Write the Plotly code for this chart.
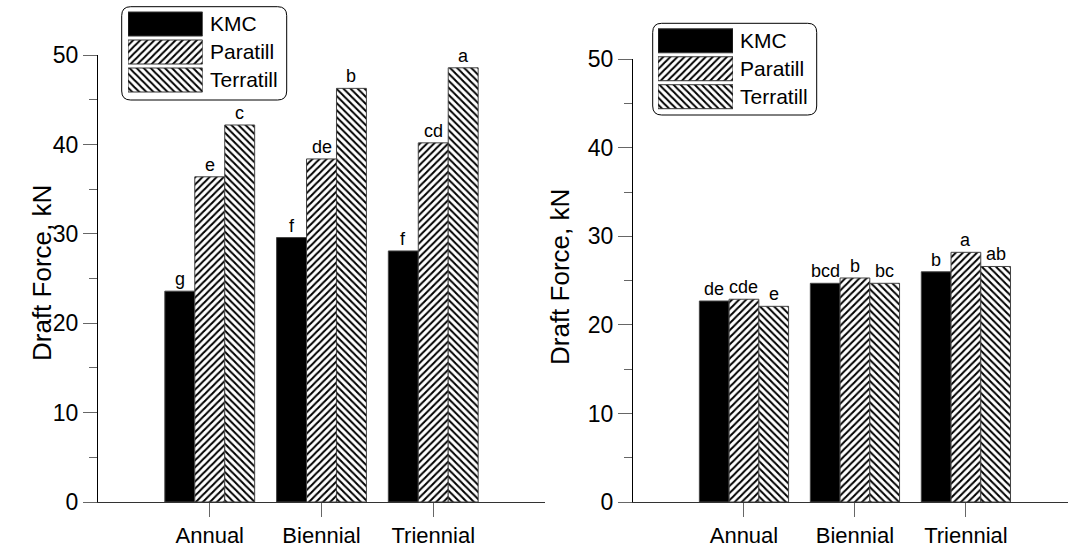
import plotly.graph_objects as go

categories = ["Annual", "Biennial", "Triennial"]
series = ["KMC", "Paratill", "Terratill"]

left_kmc = [23.6, 29.6, 28.1]
left_paratill = [36.4, 38.4, 40.2]
left_terratill = [42.2, 46.3, 48.6]
left_letters_kmc = ["g", "f", "f"]
left_letters_paratill = ["e", "de", "cd"]
left_letters_terratill = ["c", "b", "a"]

right_kmc = [22.7, 24.7, 26.0]
right_paratill = [22.9, 25.3, 28.2]
right_terratill = [22.1, 24.7, 26.6]
right_letters_kmc = ["de", "bcd", "b"]
right_letters_paratill = ["cde", "b", "a"]
right_letters_terratill = ["e", "bc", "ab"]

y_ticks = [0, 10, 20, 30, 40, 50]

FONT = "Liberation Sans, Arial, sans-serif"
W, H = 1068, 552
BW = 0.268
OFF0 = -1.5 * BW

styles = [
    dict(color="black", pattern=None),
    dict(color="white", pattern=dict(shape="/", fgcolor="black", bgcolor="white", size=5, solidity=0.4)),
    dict(color="white", pattern=dict(shape="\\", fgcolor="black", bgcolor="white", size=5, solidity=0.4)),
]

fig = go.Figure()
xs = list(range(len(categories)))

panels = [
    ("x", "y", [left_kmc, left_paratill, left_terratill],
     [left_letters_kmc, left_letters_paratill, left_letters_terratill]),
    ("x2", "y2", [right_kmc, right_paratill, right_terratill],
     [right_letters_kmc, right_letters_paratill, right_letters_terratill]),
]
for xa, ya, vals, letters in panels:
    for i, (v, t) in enumerate(zip(vals, letters)):
        st = styles[i]
        marker = dict(color=st["color"], line=dict(color="#444444", width=1))
        if st["pattern"]:
            marker["pattern"] = st["pattern"]
        fig.add_trace(go.Bar(
            x=xs, y=v, width=BW, offset=OFF0 + i * BW, xaxis=xa, yaxis=ya,
            marker=marker, showlegend=False, name=series[i], hoverinfo="skip"))
        for xi, yi, ti in zip(xs, v, t):
            fig.add_annotation(x=xi + OFF0 + (i + 0.5) * BW, y=yi, xref=xa, yref=ya, text=ti,
                               showarrow=False, yanchor="bottom", yshift=0,
                               font=dict(family=FONT, size=18, color="black"))

# custom legends (large patches)
legend_axes = [("x3", "y3"), ("x4", "y4")]
for xa, ya in legend_axes:
    for i in range(3):
        st = styles[i]
        marker = dict(color=st["color"], line=dict(color="#333333", width=1))
        if st["pattern"]:
            marker["pattern"] = st["pattern"]
        fig.add_trace(go.Bar(
            x=[1], y=[i], orientation="h", width=0.857, xaxis=xa, yaxis=ya,
            marker=marker, showlegend=False, hoverinfo="skip"))
        fig.add_annotation(x=1, y=i, xref=xa, yref=ya, text=series[i], showarrow=False,
                           xanchor="left", xshift=5, font=dict(family=FONT, size=21, color="black"))

def px2x(px):
    return px / W

def px2y(py):
    return 1 - py / H

yax_common = dict(range=[0, 50], tickvals=y_ticks, ticks="outside", ticklen=14, tickcolor="#666666",
                  showline=True, linecolor="black", linewidth=1, showgrid=False, zeroline=False,
                  automargin=False,
                  tickfont=dict(family=FONT, size=23, color="black"),
                  minor=dict(dtick=5, ticks="outside", ticklen=8, tickcolor="#666666", showgrid=False))
xax_common = dict(tickvals=xs, ticktext=categories, ticks="outside", ticklen=14, tickcolor="#666666",
                  showline=True, linecolor="#333333", linewidth=1, showgrid=False, zeroline=False,
                  automargin=False,
                  tickfont=dict(family=FONT, size=22, color="black"))
hidden = dict(visible=False, fixedrange=True, automargin=False)

fig.update_layout(
    template="none",
    width=W, height=H, margin=dict(l=0, r=0, t=0, b=0, autoexpand=False),
    paper_bgcolor="white", plot_bgcolor="white", barmode="overlay", showlegend=False,
    xaxis=dict(domain=[px2x(98), px2x(545)], range=[-1, 3], anchor="y", **xax_common),
    yaxis=dict(domain=[px2y(502), px2y(55.3)], anchor="x", **yax_common),
    xaxis2=dict(domain=[px2x(633), 1.0], range=[-1, 2.92], anchor="y2", **xax_common),
    yaxis2=dict(domain=[px2y(502), px2y(59.3)], anchor="x2", **yax_common),
    xaxis3=dict(domain=[px2x(128), px2x(202.7)], range=[0, 1], anchor="y3", **hidden),
    yaxis3=dict(domain=[px2y(94), px2y(10)], range=[2.5, -0.5], anchor="x3", **hidden),
    xaxis4=dict(domain=[px2x(658), px2x(733)], range=[0, 1], anchor="y4", **hidden),
    yaxis4=dict(domain=[px2y(110.7), px2y(26.8)], range=[2.5, -0.5], anchor="x4", **hidden),
)

def rounded_box(x0, y0, x1, y1, r):
    X0, X1 = px2x(x0), px2x(x1)
    rx, ry = r / W, r / H
    Y0, Y1 = px2y(y0), px2y(y1)  # Y0 top, Y1 bottom
    return (f"M {X0+rx},{Y0} L {X1-rx},{Y0} Q {X1},{Y0} {X1},{Y0-ry} "
            f"L {X1},{Y1+ry} Q {X1},{Y1} {X1-rx},{Y1} L {X0+rx},{Y1} "
            f"Q {X0},{Y1} {X0},{Y1+ry} L {X0},{Y0-ry} Q {X0},{Y0} {X0+rx},{Y0} Z")

fig.add_shape(type="path", xref="paper", yref="paper", path=rounded_box(121.7, 6.7, 286.7, 100, 9),
              line=dict(color="black", width=1), fillcolor="rgba(0,0,0,0)", layer="below")
fig.add_shape(type="path", xref="paper", yref="paper", path=rounded_box(652.7, 23.3, 816.7, 115, 9),
              line=dict(color="black", width=1), fillcolor="rgba(0,0,0,0)", layer="below")

# y-axis titles
fig.add_annotation(x=px2x(25), y=px2y(273), xref="paper", yref="paper", text="Draft Force, kN",
                   textangle=-90, showarrow=False, font=dict(family=FONT, size=26, color="black"))
fig.add_annotation(x=px2x(560), y=px2y(277), xref="paper", yref="paper", text="Draft Force, kN",
                   textangle=-90, showarrow=False, font=dict(family=FONT, size=26, color="black"))

fig.write_html("out.html", config={"displayModeBar": False},
               post_script="document.body.style.margin='0';document.body.style.overflow='hidden';")
